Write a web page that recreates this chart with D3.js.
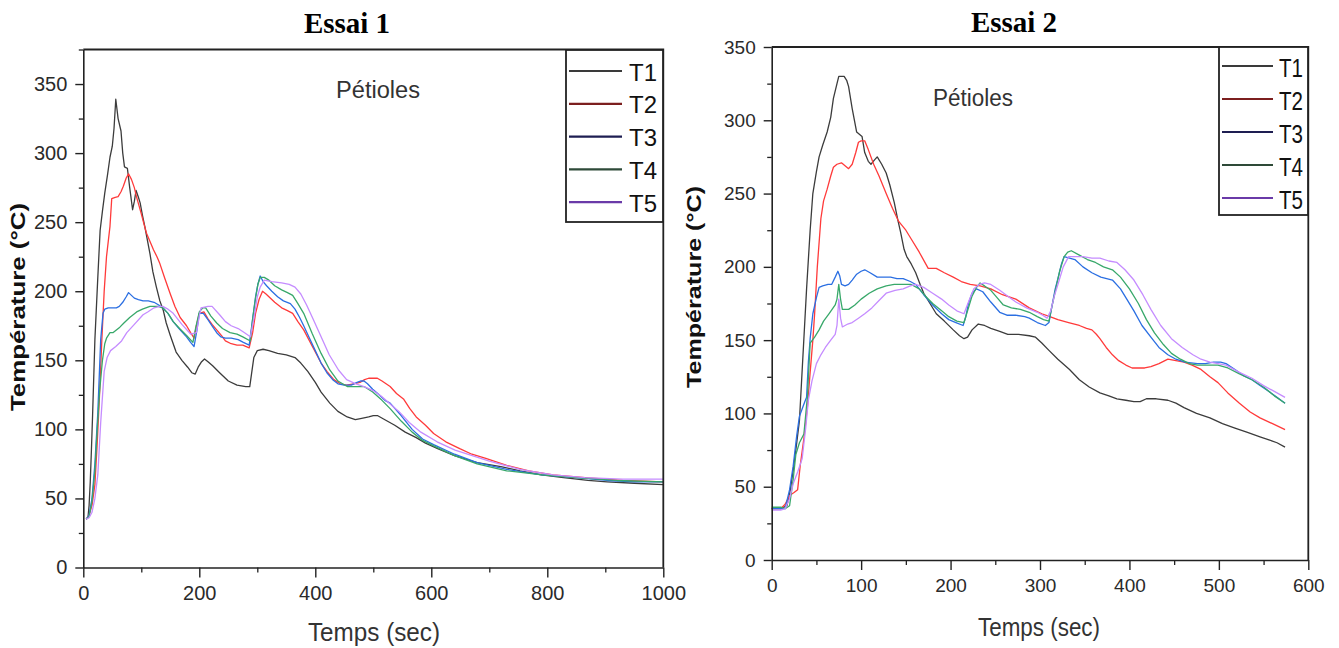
<!DOCTYPE html>
<html>
<head>
<meta charset="utf-8">
<script src="https://cdn.jsdelivr.net/npm/d3@7"></script>
<style>
  html, body { margin: 0; padding: 0; background: #ffffff; }
  svg { display: block; }
</style>
</head>
<body>
<svg id="chart" width="1339" height="648"></svg>
<script>
// ---------------- DATA ----------------
const seriesNames = ["T1", "T2", "T3", "T4", "T5"];
const chartTitles = ["Essai 1", "Essai 2"];
const annotation = "Pétioles";
const xAxisTitle = "Temps (sec)";
const yAxisTitle = "Température (°C)";

const e1XTicks = [0, 200, 400, 600, 800, 1000];
const e1YTicks = [0, 50, 100, 150, 200, 250, 300, 350];
const e2XTicks = [0, 100, 200, 300, 400, 500, 600];
const e2YTicks = [0, 50, 100, 150, 200, 250, 300, 350];

// Essai 1 : [time (s), temperature (°C)]
const e1T1 = [[5,35],[8,36],[10,45],[12,62],[14,85],[16,110],[20,165],[25,210],[29,244],[33,258],[37,271],[42,285],[46,297],[50,305],[53,318],[56,339],[60,325],[65,316],[68,300],[71,290],[76,289],[80,275],[85,259],[88,265],[91,273],[95,268],[98,264],[102,255],[106,247],[110,238],[115,227],[120,214],[126,203],[132,193],[138,186],[143,177],[150,168],[160,156],[170,150],[180,145],[187,141],[193,140],[198,145],[204,149],[209,151],[215,149],[223,146],[235,141],[250,135],[265,132],[280,131],[287,131],[290,140],[294,152],[300,157],[310,158],[320,157],[335,155],[350,154],[365,152],[375,148],[387,142],[400,134],[410,127],[425,119],[439,113],[455,109],[469,107],[480,108],[492,109],[500,110],[507,110],[520,107],[537,103],[555,98],[574,94],[590,90],[611,86],[640,81],[679,76],[720,73],[753,70],[790,67],[828,65],[870,63],[903,62],[950,61],[1000,60]];
const e1T2 = [[5,35],[10,38],[15,45],[20,60],[24,90],[28,125],[32,165],[36,200],[40,225],[46,247],[49,267],[55,268],[60,268.5],[65,272],[69,276],[74,282],[78,285],[83,281],[88,275],[92,268],[96,262],[100,256],[105,248],[109,242],[115,236],[121,230],[127,225],[132,220],[140,210],[150,198],[158,189],[167,181],[178,175],[185,170],[191,166],[195,175],[200,184],[208,185],[215,180],[222,176],[230,172],[238,168],[245,164],[255,162],[265,161],[275,161],[286,159],[292,170],[297,184],[303,194],[309,200],[315,198],[320,196],[330,192],[342,188],[352,186],[361,184],[370,178],[380,172],[395,160],[410,148],[420,142],[432,136],[443,133],[454,132],[466,133],[477,134],[485,136],[492,137],[500,137],[507,137],[515,135],[529,131],[540,126],[552,122],[563,115],[574,109],[590,103],[604,97],[625,91],[649,86],[670,82],[694,79],[730,74],[768,70],[810,67],[865,65],[930,63],[1000,62]];
const e1T3 = [[5,35],[10,38],[15,50],[20,75],[25,112],[30,165],[34,184],[37,187],[43,188],[51,188],[57,188],[62,189],[68,192],[74,196],[78,199],[83,197],[88,195],[95,194],[103,193],[112,193],[122,192],[130,190],[137,188],[146,184],[155,178],[165,173],[178,167],[185,163],[191,160],[196,172],[200,184],[207,184],[214,180],[222,175],[230,170],[237,167],[245,166],[255,166],[267,165],[276,163],[286,161],[292,180],[297,196],[301,205],[305,211],[310,207],[316,204],[325,200],[335,196],[345,193],[357,191],[365,187],[373,181],[380,175],[390,166],[400,157],[410,148],[420,141],[430,136],[439,133],[450,132],[462,132],[472,134],[478,135],[484,135],[490,133],[499,129],[510,125],[520,121],[529,119],[548,110],[567,100],[585,93],[604,89],[640,82],[679,76],[730,71],[791,67],[850,65],[903,63],[950,62],[1000,62]];
const e1T4 = [[5,35],[10,37],[15,48],[20,70],[24,100],[28,127],[33,150],[37,162],[40,166],[46,170],[51,170],[57,172],[63,174],[70,177],[80,181],[92,185],[102,187],[115,189],[129,189],[137,188],[146,184],[155,178],[166,173],[178,168],[189,163],[194,174],[200,185],[206,188],[211,188],[220,182],[230,177],[240,173],[253,170],[265,169],[275,167],[288,164],[292,180],[297,195],[301,205],[305,210],[312,210],[320,208],[330,204],[342,201],[352,199],[361,197],[370,191],[380,184],[395,169],[410,155],[425,143],[439,135],[455,131],[470,131],[484,131],[499,127],[515,121],[529,115],[548,106],[567,98],[585,92],[604,88],[640,81],[679,75],[730,70],[791,67],[850,65],[920,63],[1000,62]];
const e1T5 = [[5,35],[10,36],[15,40],[20,50],[25,67],[30,105],[36,142],[41,152],[47,157],[56,160],[66,164],[75,170],[88,176],[103,183],[111,185],[122,188],[132,189],[137,189],[146,187],[155,184],[170,176],[185,169],[195,170],[200,182],[203,188],[215,189],[222,189],[235,183],[245,178],[255,175],[267,173],[278,170],[288,167],[294,180],[300,196],[305,203],[312,208],[325,207],[342,206],[355,205],[365,203],[375,198],[385,190],[395,181],[410,167],[424,154],[440,143],[454,136],[470,133],[484,131],[500,128],[514,124],[530,118],[544,113],[562,105],[582,98],[610,91],[641,85],[700,77],[753,71],[810,67],[865,65],[930,64],[1000,64]];

// Essai 2 : [time (s), temperature (°C)]
const e2T1 = [[0,35],[10,35],[17,37],[20,45],[24,61],[28,80],[31,95],[35,140],[39,185],[43,225],[46,250],[50,265],[53,275],[57,283],[62,292],[66,302],[69,315],[73,325],[75,330],[81,330],[84,327],[86,323],[90,308],[95,292],[99,290],[101,289],[104,278],[108,272],[111,270],[115,273],[118,275],[123,270],[128,264],[132,256],[137,244],[141,232],[144,224],[148,212],[151,207],[156,202],[161,196],[166,188],[170,182],[177,175],[184,168],[193,163],[203,157],[210,153],[215,151],[219,152],[224,157],[231,161],[238,160],[245,158],[255,156],[264,154],[276,154],[288,153],[295,152],[302,148],[310,143],[320,137],[333,130],[344,123],[355,118],[367,114],[377,112],[386,110],[396,109],[405,108],[412,108],[419,110],[430,110],[443,109],[452,107],[461,104],[475,100],[490,97],[504,93],[518,90],[532,87],[546,84],[556,82],[565,80],[574,77]];
const e2T2 = [[0,35],[10,35],[15,38],[20,44],[25,46],[29,48],[32,65],[36,83],[40,105],[43,128],[46,150],[48,168],[51,200],[55,233],[58,245],[62,253],[66,262],[69,268],[73,270],[78,271],[82,269],[86,267],[90,270],[94,278],[97,285],[100,286],[104,286],[108,280],[114,270],[120,262],[128,250],[135,240],[142,231],[150,225],[156,219],[165,210],[175,199],[184,199],[193,196],[203,193],[212,190],[222,188],[233,187],[245,185],[258,181],[273,178],[288,172],[302,168],[311,166],[320,164],[332,162],[344,160],[352,158],[358,157],[363,154],[367,151],[374,145],[381,140],[388,136],[396,133],[403,131],[410,131],[417,131],[424,132],[433,134],[443,137],[452,136],[461,135],[470,133],[480,130],[490,125],[499,121],[510,114],[523,107],[535,101],[546,97],[560,93],[574,89]];
const e2T3 = [[0,35],[10,35],[15,35],[20,48],[24,64],[28,85],[31,98],[34,103],[37,108],[39,111],[41,135],[43,151],[46,168],[50,179],[53,186],[57,187],[63,188],[67,188],[71,193],[74,197],[76,194],[78,188],[82,187],[86,188],[90,191],[95,195],[100,197],[104,198],[110,196],[118,193],[125,193],[133,193],[140,192],[147,192],[155,190],[161,188],[170,181],[180,174],[190,168],[198,164],[206,162],[214,160],[217,166],[220,175],[224,182],[229,185],[236,183],[245,176],[255,169],[263,167],[273,167],[283,166],[288,165],[297,162],[306,160],[310,162],[313,172],[317,185],[320,192],[324,202],[327,207],[333,206],[339,205],[348,200],[358,196],[368,193],[381,191],[390,185],[396,179],[405,170],[414,160],[424,152],[433,145],[443,140],[452,137],[462,135],[476,134],[485,134],[494,135],[502,135],[508,134],[518,130],[527,126],[537,123],[546,119],[556,115],[565,111],[574,107]];
const e2T4 = [[0,36],[10,36],[15,35],[20,37],[24,55],[27,72],[31,80],[36,86],[40,112],[43,148],[48,152],[53,157],[58,163],[64,168],[71,174],[73,178],[75,188],[77,178],[79,171],[86,171],[93,174],[100,178],[109,182],[118,185],[128,187],[137,188],[147,188],[156,188],[165,185],[172,180],[180,175],[190,170],[198,166],[207,163],[215,162],[219,170],[224,180],[229,186],[233,189],[238,187],[245,184],[252,179],[259,174],[268,172],[278,171],[288,169],[297,166],[304,164],[310,163],[313,172],[318,186],[322,197],[327,207],[331,210],[335,211],[344,208],[353,205],[362,203],[371,200],[381,198],[390,193],[400,185],[410,175],[419,164],[428,155],[438,147],[447,141],[457,137],[467,134],[476,133],[490,133],[499,133],[510,131],[523,127],[537,123],[550,118],[562,112],[574,107]];
const e2T5 = [[0,34],[10,34],[15,35],[20,42],[24,52],[29,60],[34,69],[38,90],[41,109],[45,122],[50,134],[55,140],[60,145],[66,150],[71,154],[73,160],[75,178],[77,165],[79,159],[85,161],[90,162],[97,165],[104,168],[112,172],[120,177],[128,182],[138,184],[147,185],[155,187],[161,188],[170,186],[180,182],[190,178],[198,174],[207,170],[215,168],[220,176],[226,185],[232,188],[238,189],[245,188],[255,184],[264,180],[273,176],[285,172],[297,169],[303,167],[308,165],[312,170],[316,180],[320,188],[326,200],[332,207],[340,207],[348,207],[358,206],[367,206],[377,204],[386,203],[395,198],[405,191],[415,181],[424,171],[435,160],[447,151],[459,145],[471,140],[480,137],[490,135],[499,134],[508,133],[523,128],[537,124],[550,119],[562,115],[574,111]];

// ---------------- STYLES ----------------
const lineColors   = ["#3c3c3c", "#ff3a3a", "#2b6fe2", "#38a86a", "#c58cff"];
const legendColors = ["#3a3a3a", "#7c1f1f", "#1e1e52", "#2e4a38", "#6a3aa8"];
const axisColor = "#222222";
const textColor = "#2a2a2a";

const svg = d3.select("#chart");
const intFmt = d3.format("d");

function drawChart(cfg) {
  const g = svg.append("g");
  const x = d3.scaleLinear().domain(cfg.xDomain).range(cfg.xRange);
  const y = d3.scaleLinear().domain(cfg.yDomain).range(cfg.yRange);
  const x0 = cfg.xRange[0], x1 = cfg.xRange[1];
  const yb = cfg.yRange[0], yt = cfg.yRange[1];

  // series lines (drawn first, axes on top)
  const line = d3.line().x(d => x(d[0])).y(d => y(d[1]));
  cfg.series.forEach((s, i) => {
    g.append("path")
      .datum(s)
      .attr("fill", "none")
      .attr("stroke", lineColors[i])
      .attr("stroke-width", 1.3)
      .attr("stroke-linejoin", "round")
      .attr("d", line);
  });

  // minor ticks
  const xMinor = d3.range(cfg.xDomain[0], cfg.xDomain[1] + 1e-9, cfg.xMinorStep)
    .filter(v => !cfg.xTicks.includes(v));
  const yMinor = d3.range(cfg.yDomain[0], cfg.yDomain[1] + 1e-9, 25)
    .filter(v => !cfg.yTicks.includes(v));
  g.append("g").attr("transform", `translate(0,${yb})`)
    .call(d3.axisBottom(x).tickValues(xMinor).tickSize(5).tickFormat(""))
    .call(a => a.select(".domain").remove())
    .call(a => a.selectAll("line").attr("stroke", axisColor).attr("stroke-width", 1.3));
  g.append("g").attr("transform", `translate(${x0},0)`)
    .call(d3.axisLeft(y).tickValues(yMinor).tickSize(4.5).tickFormat(""))
    .call(a => a.select(".domain").remove())
    .call(a => a.selectAll("line").attr("stroke", axisColor).attr("stroke-width", 1.3));

  // major axes
  const xa = g.append("g").attr("transform", `translate(0,${yb})`)
    .call(d3.axisBottom(x).tickValues(cfg.xTicks).tickFormat(intFmt)
      .tickSizeInner(10).tickSizeOuter(0).tickPadding(cfg.xPad));
  const ya = g.append("g").attr("transform", `translate(${x0},0)`)
    .call(d3.axisLeft(y).tickValues(cfg.yTicks).tickFormat(intFmt)
      .tickSizeInner(8).tickSizeOuter(0).tickPadding(cfg.yPad));
  [xa, ya].forEach(a => {
    a.select(".domain").attr("stroke", axisColor).attr("stroke-width", 1.6);
    a.selectAll(".tick line").attr("stroke", axisColor).attr("stroke-width", 1.4);
    a.selectAll(".tick text")
      .attr("fill", textColor)
      .style("font-family", "'Liberation Sans', Arial, sans-serif")
      .style("font-size", cfg.tickFont + "px");
  });

  // frame top and right
  g.append("path")
    .attr("d", `M${x0},${yt}H${x1}V${yb}`)
    .attr("fill", "none").attr("stroke", axisColor).attr("stroke-width", 1.8);

  // title
  g.append("text")
    .attr("x", cfg.titleX).attr("y", cfg.titleY)
    .attr("text-anchor", "middle")
    .style("font-family", "'Liberation Serif', 'Times New Roman', serif")
    .style("font-weight", "bold").style("font-size", "29px")
    .attr("fill", "#000")
    .text(cfg.title);

  // annotation
  g.append("text")
    .attr("x", cfg.annX).attr("y", cfg.annY)
    .attr("text-anchor", "middle")
    .attr("textLength", cfg.annLen).attr("lengthAdjust", "spacingAndGlyphs")
    .style("font-family", "'Liberation Sans', Arial, sans-serif")
    .style("font-size", "23.5px").attr("fill", "#333")
    .text(annotation);

  // x axis title
  g.append("text")
    .attr("x", cfg.xtX).attr("y", cfg.xtY)
    .attr("text-anchor", "middle")
    .attr("textLength", cfg.xtLen).attr("lengthAdjust", "spacingAndGlyphs")
    .style("font-family", "'Liberation Sans', Arial, sans-serif")
    .style("font-size", "26px").attr("fill", "#333")
    .text(xAxisTitle);

  // y axis title
  g.append("text")
    .attr("transform", `translate(${cfg.ytX},${cfg.ytY}) rotate(-90)`)
    .attr("text-anchor", "middle")
    .attr("textLength", cfg.ytLen).attr("lengthAdjust", "spacingAndGlyphs")
    .style("font-family", "'Liberation Sans', Arial, sans-serif")
    .style("font-weight", "bold").style("font-size", "21px").attr("fill", "#111")
    .text(yAxisTitle);

  // legend
  const L = cfg.legend;
  g.append("rect")
    .attr("x", L.x).attr("y", L.y).attr("width", L.w).attr("height", L.h)
    .attr("fill", "#fff").attr("stroke", axisColor).attr("stroke-width", 1.8);
  seriesNames.forEach((name, i) => {
    g.append("line")
      .attr("x1", L.lx1).attr("x2", L.lx2)
      .attr("y1", L.ly + i * L.step).attr("y2", L.ly + i * L.step)
      .attr("stroke", legendColors[i]).attr("stroke-width", 2.2);
    g.append("text")
      .attr("x", L.tx).attr("y", L.ty + i * L.step)
      .attr("textLength", L.tlen).attr("lengthAdjust", "spacingAndGlyphs")
      .style("font-family", "'Liberation Sans', Arial, sans-serif")
      .style("font-size", L.font + "px").attr("fill", "#111")
      .text(name);
  });
}

drawChart({
  series: [e1T1, e1T2, e1T3, e1T4, e1T5],
  xDomain: [0, 1000], xRange: [83.3, 663.3],
  yDomain: [0, 375], yRange: [567.5, 49.5],
  xTicks: e1XTicks, yTicks: e1YTicks, xMinorStep: 100,
  xPad: 8, yPad: 8, tickFont: 20,
  title: chartTitles[0], titleX: 347, titleY: 33,
  annX: 378, annY: 98, annLen: 84,
  xtX: 374, xtY: 641, xtLen: 132,
  ytX: 25, ytY: 307, ytLen: 208,
  legend: { x: 566, y: 50, w: 97, h: 172, lx1: 569, lx2: 622, ly: 71, step: 32.8, tx: 629, ty: 80.6, tlen: 28, font: 24 }
});

drawChart({
  series: [e2T1, e2T2, e2T3, e2T4, e2T5],
  xDomain: [0, 600], xRange: [771.7, 1308.3],
  yDomain: [0, 350], yRange: [560, 47],
  xTicks: e2XTicks, yTicks: e2YTicks, xMinorStep: 50,
  xPad: 9, yPad: 8, tickFont: 19,
  title: chartTitles[1], titleX: 1014, titleY: 32,
  annX: 973, annY: 106, annLen: 80,
  xtX: 1039, xtY: 636, xtLen: 122,
  ytX: 701, ytY: 287, ytLen: 202,
  legend: { x: 1219, y: 47, w: 89, h: 168, lx1: 1222, lx2: 1273, ly: 66, step: 33, tx: 1279, ty: 77, tlen: 24, font: 25 }
});
</script>
</body>
</html>
